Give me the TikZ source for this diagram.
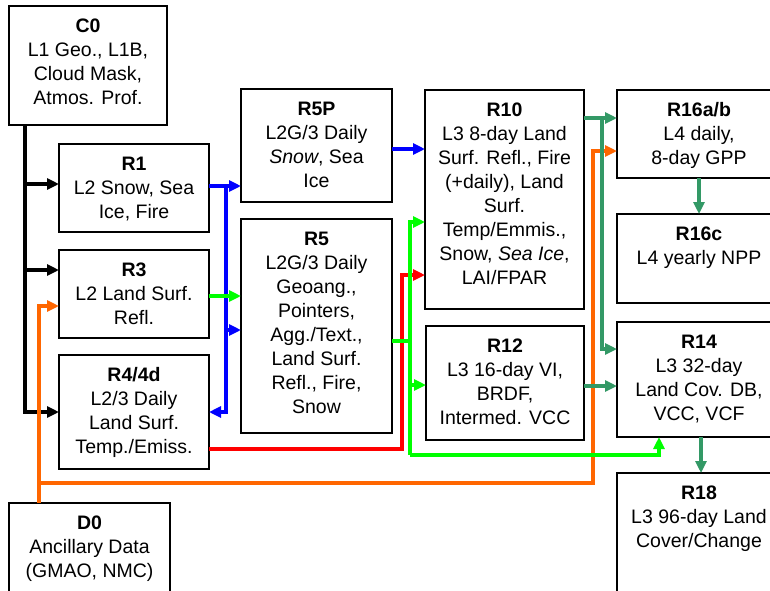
\documentclass[tikz,border=0pt]{standalone}
\usepackage{fontspec}
\setmainfont{Liberation Sans}
\usetikzlibrary{arrows.meta}
\definecolor{cgreen}{RGB}{0,255,0}
\definecolor{cblue}{RGB}{0,0,255}
\definecolor{cred}{RGB}{255,0,0}
\definecolor{corange}{RGB}{255,102,0}
\definecolor{cteal}{RGB}{51,153,102}
\begin{document}
\begin{tikzpicture}[x=1pt,y=-1pt,
  box/.style={draw, line width=1.8pt, inner sep=0pt, outer sep=0pt, anchor=north west, fill=white},
  txt/.style={align=center, inner sep=0pt, anchor=north, font=\fontsize{19.5}{24}\selectfont},
  conn/.style={line width=3.6pt, -{Triangle[length=12pt,width=11pt]}},
  plain/.style={line width=3.6pt},
]
\fill[white] (0,0) rectangle (770,590);
\useasboundingbox (0,0) rectangle (770,590);
\clip (0,0) rectangle (770,590);

% boxes
\node[box, minimum width=158pt, minimum height=119pt] (c0) at (9,6) {};
\node[box, minimum width=150pt, minimum height=88pt] (r1) at (59,144) {};
\node[box, minimum width=150pt, minimum height=88pt] (r3) at (59,250) {};
\node[box, minimum width=150pt, minimum height=114pt] (r4) at (59,355) {};
\node[box, minimum width=161pt, minimum height=100pt] (d0) at (9,503) {};
\node[box, minimum width=151pt, minimum height=113pt] (r5p) at (241,89) {};
\node[box, minimum width=151pt, minimum height=214pt] (r5) at (241,219) {};
\node[box, minimum width=159pt, minimum height=219pt] (r10) at (425,90) {};
\node[box, minimum width=158pt, minimum height=114pt] (r12) at (426,326) {};
\node[box, minimum width=164pt, minimum height=88pt] (r16ab) at (617,90) {};
\node[box, minimum width=164pt, minimum height=89pt] (r16c) at (617,214) {};
\node[box, minimum width=164pt, minimum height=115pt] (r14) at (617,322) {};
\node[box, minimum width=164pt, minimum height=127pt] (r18) at (617,473) {};

% texts
\node[txt] (c0t) at ([yshift=-12.5pt]c0.north) {\textbf{C0}\\L1 Geo., L1B,\\Cloud Mask,\\Atmos. Prof.};
\node[txt] (r1t) at ([yshift=-12.5pt]r1.north) {\textbf{R1}\\L2 Snow, Sea\\Ice, Fire};
\node[txt] (r3t) at ([yshift=-12.5pt]r3.north) {\textbf{R3}\\L2 Land Surf.\\Refl.};
\node[txt] (r4t) at ([yshift=-12.5pt]r4.north) {\textbf{R4/4d}\\L2/3 Daily\\Land Surf.\\Temp./Emiss.};
\node[txt] (d0t) at ([yshift=-12.5pt]d0.north) {\textbf{D0}\\Ancillary Data\\(GMAO, NMC)};
\node[txt] (r5pt) at ([yshift=-12.5pt]r5p.north) {\textbf{R5P}\\L2G/3 Daily\\\textit{Snow}, Sea\\Ice};
\node[txt] (r5t) at ([yshift=-12.5pt]r5.north) {\textbf{R5}\\L2G/3 Daily\\Geoang.,\\Pointers,\\Agg./Text.,\\Land Surf.\\Refl., Fire,\\Snow};
\node[txt] (r10t) at ([yshift=-12.5pt]r10.north) {\textbf{R10}\\L3 8-day Land\\Surf. Refl., Fire\\(+daily), Land\\Surf.\\Temp/Emmis.,\\Snow, \textit{Sea Ice},\\LAI/FPAR};
\node[txt] (r12t) at ([yshift=-12.5pt]r12.north) {\textbf{R12}\\L3 16-day VI,\\BRDF,\\Intermed. VCC};
\node[txt] (r16abt) at ([yshift=-12.5pt]r16ab.north) {\textbf{R16a/b}\\L4 daily,\\8-day GPP};
\node[txt] (r16ct) at ([yshift=-12.5pt]r16c.north) {\textbf{R16c}\\L4 yearly NPP};
\node[txt] (r14t) at ([yshift=-12.5pt]r14.north) {\textbf{R14}\\L3 32-day\\Land Cov. DB,\\VCC, VCF};
\node[txt] (r18t) at ([yshift=-12.5pt]r18.north) {\textbf{R18}\\L3 96-day Land\\Cover/Change};

% junction coordinates
\coordinate (tk) at (25,0);
\coordinate (ox) at (39,0);
\coordinate (oy) at (0,483);
\coordinate (ox2) at (593,0);
\coordinate (bx) at (226,0);
\coordinate (gx) at (410,0);
\coordinate (gy) at (0,455);
\coordinate (rx) at (402,0);
\coordinate (tx) at (602,0);

\coordinate (r1in) at ([yshift=4pt]r1.west);
\coordinate (r3in) at ([yshift=24pt]r3.west);
\coordinate (r3o) at ([yshift=-12pt]r3.west);
\coordinate (r16o) at ([yshift=-17pt]r16ab.west);
\coordinate (b1) at ([yshift=2pt]r1.east);
\coordinate (b5) at ([yshift=-4pt]r5.west);
\coordinate (b10) at ([yshift=-3.5pt]r5p.east);
\coordinate (g3) at ([yshift=-2pt]r3.east);
\coordinate (g5) at ([yshift=-15pt]r5.east);
\coordinate (g10) at ([yshift=-22.5pt]r10.west);
\coordinate (g12) at ([yshift=-2pt]r12.west);
\coordinate (g14) at ([xshift=-40pt]r14.south);
\coordinate (rd4) at ([yshift=-37pt]r4.east);
\coordinate (rd10) at ([yshift=-75.5pt]r10.west);
\coordinate (t1) at ([yshift=16pt]r16ab.west);
\coordinate (t14) at ([yshift=30.5pt]r14.west);
\coordinate (t12) at ([yshift=-3pt]r12.east);

% black
\draw[conn] (c0.south -| tk) |- (r4.west);
\draw[conn] (tk |- r1in) -- (r1in);
\draw[conn] (tk |- r3in) -- (r3in);

% orange
\draw[conn, corange] (d0.north -| ox) |- (r3o);
\draw[conn, corange] (ox |- oy) -| (ox2 |- r16o) -- (r16o);

% blue
\draw[conn, cblue] (b1) -- (b1 -| r5p.west);
\draw[conn, cblue] (bx |- b1) |- (r4.east);
\draw[conn, cblue] (bx |- b5) -- (b5);
\draw[conn, cblue] (b10) -- (b10 -| r10.west);

% red
\draw[conn, cred] (rd4) -- (rx |- rd4) -- (rx |- rd10) -- (rd10);

% green
\draw[conn, cgreen] (g3) -- (g3 -| r5.west);
\draw[plain, cgreen] (g5) -- (gx |- g5);
\draw[conn, cgreen] (gx |- gy) |- (g10);
\draw[conn, cgreen] (gx |- gy) -| (g14);
\draw[conn, cgreen] (gx |- g12) -- (g12);

% teal
\draw[conn, cteal] (t1 -| r10.east) -- (t1);
\draw[conn, cteal] (tx |- t1) |- (t14);
\draw[conn, cteal] (t12) -- (t12 -| r14.west);
\draw[conn, cteal] (r16ab.south) -- (r16c.north);
\draw[conn, cteal] ([xshift=2pt]r14.south) -- ([xshift=2pt]r18.north);
\end{tikzpicture}
\end{document}
